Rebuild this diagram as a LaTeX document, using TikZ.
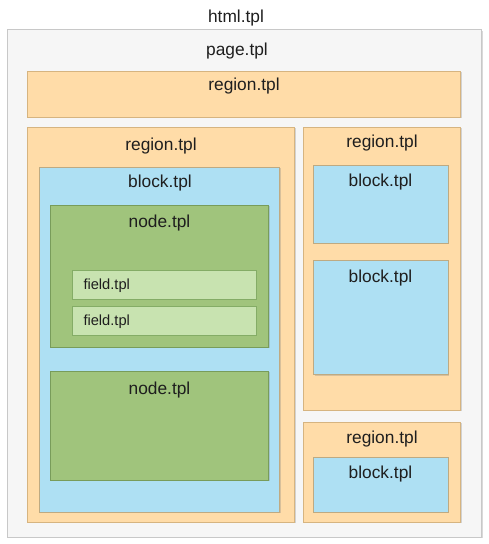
\documentclass[tikz,border=0pt]{standalone}
\usepackage{fontspec}
\setmainfont{Liberation Sans}
\usetikzlibrary{shadows}

\definecolor{pageFill}{RGB}{246,246,246}
\definecolor{pageLine}{RGB}{200,200,200}
\definecolor{regionFill}{RGB}{255,220,168}
\definecolor{regionLine}{RGB}{214,180,128}
\definecolor{blockFill}{RGB}{174,224,243}
\definecolor{blockLine}{RGB}{190,170,130}
\definecolor{nodeFill}{RGB}{160,196,124}
\definecolor{nodeLine}{RGB}{120,156,90}
\definecolor{fieldFill}{RGB}{200,227,176}
\definecolor{fieldLine}{RGB}{132,172,102}
\definecolor{labelText}{RGB}{30,30,30}

\tikzset{every picture/.style={line width=0.75pt},
  tplbox/.style={line width=0.6pt, drop shadow={shadow xshift=0.8pt, shadow yshift=-0.8pt, opacity=0.3}},
  pagebox/.style={tplbox, draw=pageLine, fill=pageFill},
  regionbox/.style={tplbox, draw=regionLine, fill=regionFill},
  blockbox/.style={tplbox, draw=blockLine, fill=blockFill},
  nodebox/.style={tplbox, draw=nodeLine, fill=nodeFill},
  fieldbox/.style={tplbox, draw=fieldLine, fill=fieldFill},
  tpllabel/.style={anchor=base, inner sep=0.75pt, text=labelText, font=\fontsize{13}{15}\selectfont},
  fieldlabel/.style={anchor=base west, inner sep=0.75pt, text=labelText, font=\fontsize{11}{13}\selectfont}}

\begin{document}
\begin{tikzpicture}[x=0.75pt,y=0.75pt,yscale=-1,xscale=1]
\useasboundingbox (0,0) rectangle (489,544); %set diagram to 489 x 544

%Shape: Rectangle [page]
\draw [pagebox] (7.5,29.5) rectangle (481.5,537) ;
%Shape: Rectangle [top region]
\draw [regionbox] (27.5,71) rectangle (460.5,117) ;
%Shape: Rectangle [left region]
\draw [regionbox] (27.5,127) rectangle (294.5,522) ;
%Shape: Rectangle [left block]
\draw [blockbox] (39.5,167) rectangle (279.5,512) ;
%Shape: Rectangle [first node]
\draw [nodebox] (50.5,205) rectangle (268.5,347) ;
%Shape: Rectangle [first field]
\draw [fieldbox] (72.5,270) rectangle (256,299) ;
%Shape: Rectangle [second field]
\draw [fieldbox] (72.5,306) rectangle (256,335) ;
%Shape: Rectangle [second node]
\draw [nodebox] (50.5,371) rectangle (268.5,480) ;
%Shape: Rectangle [right upper region]
\draw [regionbox] (303.5,127) rectangle (460.5,410) ;
%Shape: Rectangle [right upper block a]
\draw [blockbox] (313.5,165) rectangle (448,243) ;
%Shape: Rectangle [right upper block b]
\draw [blockbox] (313.5,260.5) rectangle (448,374.5) ;
%Shape: Rectangle [right lower region]
\draw [regionbox] (303.5,422) rectangle (460.5,522) ;
%Shape: Rectangle [right lower block]
\draw [blockbox] (313.5,457.5) rectangle (448,512) ;

% Text Node
\draw (236,22) node [tpllabel] (htmlLbl) {html.tpl};
% Text Node
\draw (237,55) node [tpllabel] (pageLbl) {page.tpl};
% Text Node
\draw (244,90.5) node [tpllabel] (topRegionLbl) {region.tpl};
% Text Node
\draw (161,150) node [tpllabel] (leftRegionLbl) {region.tpl};
% Text Node
\draw (160,187.5) node [tpllabel] (leftBlockLbl) {block.tpl};
% Text Node
\draw (159.5,227.3) node [tpllabel] (nodeOneLbl) {node.tpl};
% Text Node
\draw (82,289) node [fieldlabel] (fieldOneLbl) {field.tpl};
% Text Node
\draw (82,325) node [fieldlabel] (fieldTwoLbl) {field.tpl};
% Text Node
\draw (159.5,394) node [tpllabel] (nodeTwoLbl) {node.tpl};
% Text Node
\draw (382,147.7) node [tpllabel] (rightRegionLbl) {region.tpl};
% Text Node
\draw (380.5,186) node [tpllabel] (rightBlockALbl) {block.tpl};
% Text Node
\draw (380.5,282.3) node [tpllabel] (rightBlockBLbl) {block.tpl};
% Text Node
\draw (382,443.3) node [tpllabel] (lowRegionLbl) {region.tpl};
% Text Node
\draw (380.5,478.3) node [tpllabel] (lowBlockLbl) {block.tpl};

\end{tikzpicture}
\end{document}
